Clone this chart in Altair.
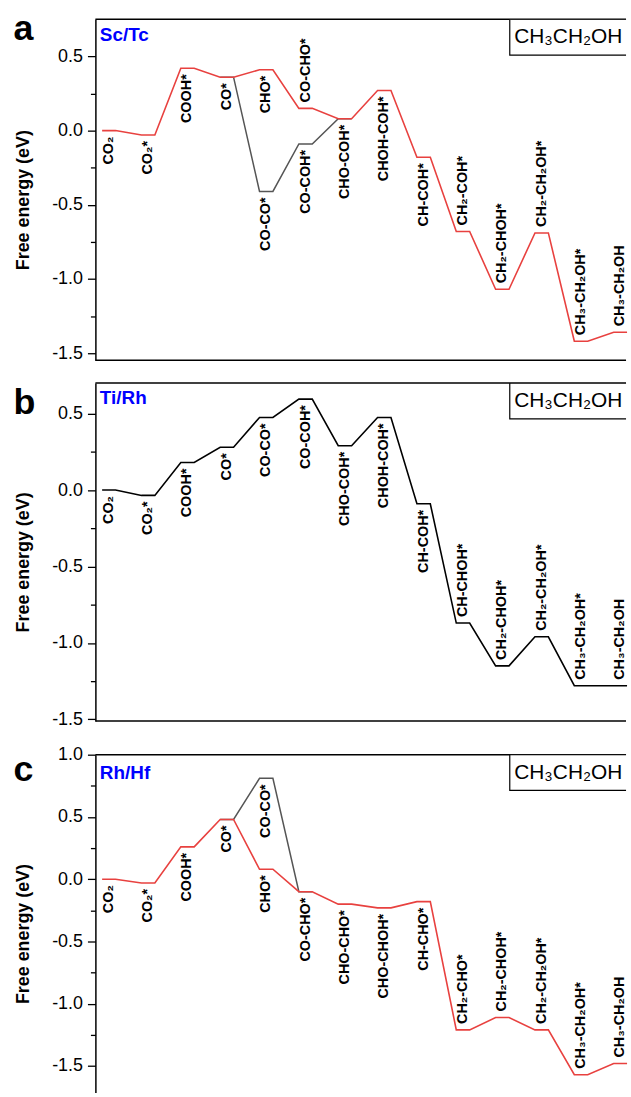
import altair as alt
import pandas as pd

FONT = "Liberation Sans, Arial, Helvetica, sans-serif"
RED = "#e8413f"
GREY = "#555555"
BLACK = "#000000"
BLUE = "#0000ff"

# ---------------- data ----------------
positions = list(range(14))

# Panel a  (Sc/Tc)
a_main_E = [0.00, -0.03, 0.42, 0.36, 0.41, 0.15, 0.08, 0.27, -0.18, -0.68, -1.07, -0.69, -1.42, -1.36]
a_alt_idx = [3, 4, 5, 6]
a_alt_E = [0.36, -0.41, -0.09, 0.08]
a_lab_text = ["CO₂", "CO₂*", "COOH*", "CO*", "CHO*", "CO-CO*", "CO-CHO*", "CO-COH*", "CHO-COH*",
              "CHOH-COH*", "CH-COH*", "CH₂-COH*", "CH₂-CHOH*", "CH₂-CH₂OH*", "CH₃-CH₂OH*", "CH₃-CH₂OH"]
a_lab_idx = [0, 1, 2, 3, 4, 4, 5, 5, 6, 7, 8, 9, 10, 11, 12, 13]
a_lab_E = [0.00, -0.03, 0.42, 0.36, 0.41, -0.41, 0.15, -0.09, 0.08, 0.27, -0.18, -0.68, -1.07, -0.69, -1.42, -1.36]
a_lab_side = ["below"] * 6 + ["above", "below", "below", "below", "below"] + ["above"] * 5

# Panel b  (Ti/Rh)
b_main_E = [0.00, -0.035, 0.18, 0.28, 0.475, 0.595, 0.29, 0.475, -0.09, -0.87, -1.15, -0.96, -1.28, -1.28]
b_lab_text = ["CO₂", "CO₂*", "COOH*", "CO*", "CO-CO*", "CO-COH*", "CHO-COH*", "CHOH-COH*", "CH-COH*",
              "CH-CHOH*", "CH₂-CHOH*", "CH₂-CH₂OH*", "CH₃-CH₂OH*", "CH₃-CH₂OH"]
b_lab_idx = list(range(14))
b_lab_E = b_main_E
b_lab_side = ["below"] * 9 + ["above"] * 5

# Panel c  (Rh/Hf)
c_main_E = [0.00, -0.03, 0.26, 0.48, 0.08, -0.10, -0.20, -0.23, -0.18, -1.21, -1.11, -1.21, -1.57, -1.48]
c_alt_idx = [3, 4, 5]
c_alt_E = [0.48, 0.81, -0.10]
c_lab_text = ["CO₂", "CO₂*", "COOH*", "CO*", "CO-CO*", "CHO*", "CO-CHO*", "CHO-CHO*", "CHO-CHOH*",
              "CH-CHO*", "CH₂-CHO*", "CH₂-CHOH*", "CH₂-CH₂OH*", "CH₃-CH₂OH*", "CH₃-CH₂OH"]
c_lab_idx = [0, 1, 2, 3, 4, 4, 5, 6, 7, 8, 9, 10, 11, 12, 13]
c_lab_E = [0.00, -0.03, 0.26, 0.48, 0.81, 0.08, -0.10, -0.20, -0.23, -0.18, -1.21, -1.11, -1.21, -1.57, -1.48]
c_lab_side = ["below"] * 10 + ["above"] * 5

ticks_ab = [-1.5, -1.25, -1.0, -0.75, -0.5, -0.25, 0.0, 0.25, 0.5]
ticks_c = [-1.5, -1.25, -1.0, -0.75, -0.5, -0.25, 0.0, 0.25, 0.5, 0.75, 1.0]
product = "CH₃CH₂OH"

# ---------------- layout constants ----------------
W = 534
XDOM = [-0.341, 13.144]
HW = 0.17  # half width of an energy level


def path_df(idx, E):
    rows = []
    k = 0
    for i, e in zip(idx, E):
        rows.append({"x": i - HW, "E": e, "o": k})
        k += 1
        rows.append({"x": i + HW, "E": e, "o": k})
        k += 1
    return pd.DataFrame(rows)


LABEL_EXPR = "abs(datum.value % 0.5) > 0.01 ? '' : replace(replace(format(datum.value, '.1f'), '\u2212', '-'), '-0.0', '0.0')"


def panel(letter, system, main_E, main_color, alt_idx, alt_E, lab_idx, lab_E, lab_text, lab_side,
          ydom, height, ticks, letter_y, sys_y, bottom_rule=True):
    yscale = alt.Scale(domain=ydom, nice=False, zero=False)
    xscale = alt.Scale(domain=XDOM, nice=False, zero=False)
    yaxis = alt.Axis(
        values=ticks, labelExpr=LABEL_EXPR, grid=False,
        tickSize={"condition": {"test": "abs(datum.value % 0.5) > 0.01", "value": 5}, "value": 8},
        tickColor=BLACK, tickWidth=1.3, domainColor=BLACK, domainWidth=1.5,
        labelFont=FONT, labelFontSize=18, labelColor=BLACK, labelPadding=5, labelOverlap=False,
        labelFlush=False,
        titleFont=FONT, titleFontSize=18, titleFontWeight="bold", titleColor=BLACK,
        titleX=-63.5, titleY=height / 2 + 10, titleBaseline="bottom", titleAngle=270,
    )

    def Y():
        return alt.Y("E:Q", scale=yscale, axis=yaxis, title="Free energy (eV)")

    def X():
        return alt.X("x:Q", scale=xscale, axis=None)

    layers = []
    if alt_idx:
        layers.append(
            alt.Chart(path_df(alt_idx, alt_E)).mark_line(color=GREY, strokeWidth=1.5)
            .encode(x=X(), y=Y(), order="o:Q")
        )
    layers.append(
        alt.Chart(path_df(positions, main_E)).mark_line(color=main_color, strokeWidth=1.6)
        .encode(x=X(), y=Y(), order="o:Q")
    )
    lab = pd.DataFrame({"x": lab_idx, "E": lab_E, "t": lab_text, "side": lab_side})
    common = dict(angle=270, baseline="middle", font=FONT, fontSize=14.5, fontWeight="bold", color=BLACK)
    layers.append(
        alt.Chart(lab[lab.side == "below"]).mark_text(align="right", yOffset=6, **common)
        .encode(x=X(), y=Y(), text="t:N")
    )
    layers.append(
        alt.Chart(lab[lab.side == "above"]).mark_text(align="left", yOffset=-6, **common)
        .encode(x=X(), y=Y(), text="t:N")
    )
    rule_vals = [ydom[1], ydom[0]] if bottom_rule else [ydom[1]]
    layers.append(
        alt.Chart(pd.DataFrame({"E": rule_vals})).mark_rule(color=BLACK, strokeWidth=1.5)
        .encode(y=Y())
    )
    tdf = pd.DataFrame({"t": [product]})
    layers.append(
        alt.Chart(tdf).mark_rect(fill="white", stroke=BLACK, strokeWidth=1.2, clip=True)
        .encode(x=alt.value(417), x2=alt.value(640), y=alt.value(0), y2=alt.value(36))
    )
    layers.append(
        alt.Chart(tdf).mark_text(align="left", baseline="alphabetic", font=FONT, fontSize=21,
                                 color=BLACK, clip=True)
        .encode(text="t:N", x=alt.value(421.5), y=alt.value(24))
    )
    layers.append(
        alt.Chart(pd.DataFrame({"t": [letter]})).mark_text(align="left", baseline="alphabetic", font=FONT,
                                                            fontSize=36, fontWeight="bold", color=BLACK)
        .encode(text="t:N", x=alt.value(-82.5), y=alt.value(letter_y))
    )
    layers.append(
        alt.Chart(pd.DataFrame({"t": [system]})).mark_text(align="left", baseline="alphabetic", font=FONT,
                                                            fontSize=19, fontWeight="bold", color=BLUE)
        .encode(text="t:N", x=alt.value(4.5), y=alt.value(sys_y))
    )
    return alt.layer(*layers).properties(width=W, height=height)


pa = panel("a", "Sc/Tc", a_main_E, RED, a_alt_idx, a_alt_E, a_lab_idx, a_lab_E, a_lab_text, a_lab_side,
           [-1.548, 0.75], 343, ticks_ab, 21, 22)
pb = panel("b", "Ti/Rh", b_main_E, BLACK, [], [], b_lab_idx, b_lab_E, b_lab_text, b_lab_side,
           [-1.51, 0.70], 340, ticks_ab, 31, 21)
pc = panel("c", "Rh/Hf", c_main_E, RED, c_alt_idx, c_alt_E, c_lab_idx, c_lab_E, c_lab_text, c_lab_side,
           [-1.713, 1.0], 340, ticks_c, 26, 24, bottom_rule=False)

chart = alt.vconcat(
    pa,
    alt.vconcat(pb, pc, spacing=34, bounds="flush"),
    spacing=20,
).properties(
    padding={"left": 13, "top": 8, "right": 0, "bottom": 0}
).configure_view(strokeWidth=0)

chart.save("out.html", embed_options={"renderer": "svg", "actions": False})
